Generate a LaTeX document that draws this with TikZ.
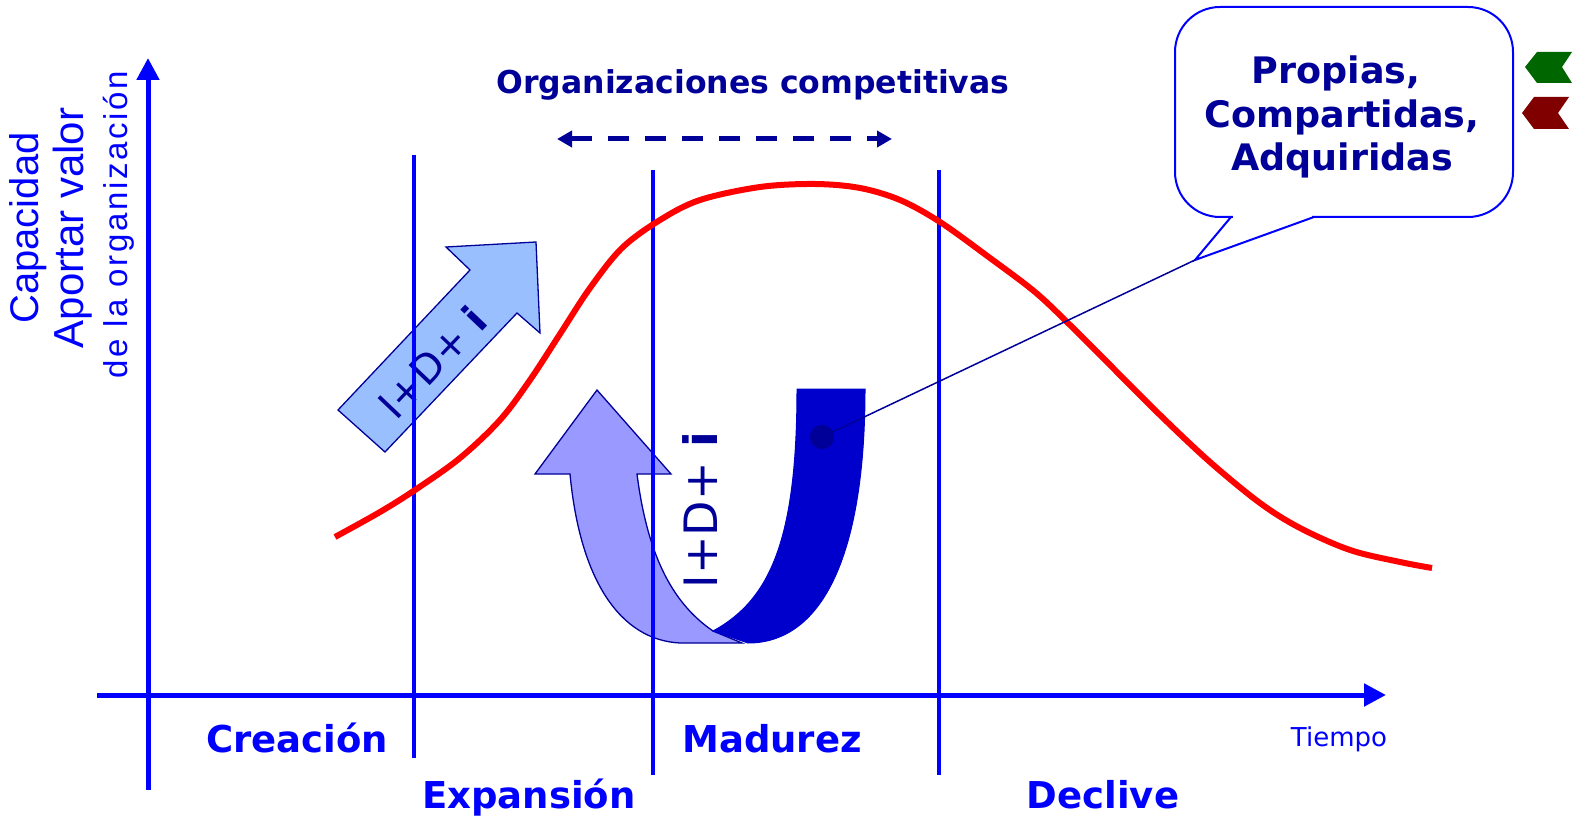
\documentclass[tikz,border=0pt]{standalone}
\usepackage{fontspec}
\setmainfont{DejaVu Sans}
\newfontfamily\arialf{Liberation Sans}
\newfontfamily\arialsp[LetterSpace=8]{Liberation Sans}
\usetikzlibrary{arrows.meta}
\definecolor{axblue}{HTML}{0000FF}
\definecolor{navy}{HTML}{000099}
\definecolor{lightarr}{HTML}{99BFFF}
\definecolor{periw}{HTML}{9999FF}
\definecolor{darkband}{HTML}{0000CC}
\definecolor{chgreen}{HTML}{006600}
\definecolor{chred}{HTML}{800000}
\tikzset{
  axis/.style={draw=axblue, line width=5},
  sep/.style={draw=axblue, line width=4},
  phase/.style={text=axblue, font=\bfseries\fontsize{37}{44}\selectfont, anchor=base, inner sep=0},
  ylab/.style={text=axblue, rotate=90, inner sep=0},
  calltext/.style={text=navy, font=\bfseries\fontsize{36.5}{44}\selectfont, anchor=base, inner sep=0},
  idi/.style={text=navy, inner sep=0},
  arrowout/.style={draw=navy, line width=1.3}
}
\begin{document}
\begin{tikzpicture}[x=1pt,y=-1pt]
\useasboundingbox (0,0) rectangle (1577,818);

% first straight arrow (light blue)
\filldraw[fill=lightarr, arrowout] (338,410) -- (470,270) -- (446,247) -- (536,242) -- (540,333) -- (517,313) -- (385,452) -- cycle;
\node[idi, rotate=46.5, font=\fontsize{40}{48}\selectfont] (t1) at (432,362) {I+D+ \textbf{i}};

% U arrow, light part
\filldraw[fill=periw, arrowout] (597,390) -- (671,474) -- (637,474) .. controls (648,560) and (675,605) .. (713,631) -- (742,643) -- (680,643) .. controls (620,640) and (580,580) .. (570,474) -- (535,474) -- cycle;
% U arrow, dark part
\filldraw[fill=darkband, draw=darkband, line width=1] (797,389) -- (865,389) .. controls (865,560) and (820,643) .. (748,643) -- (713,631) .. controls (770,600) and (797,540) .. (797,389) -- cycle;
\node[idi, rotate=90, anchor=base, font=\fontsize{46}{54}\selectfont] (t2) at (717,510) {I+D+ \textbf{i}};

% axes
\coordinate (yb) at (148,790);
\coordinate (yt) at (148,58);
\coordinate (xl) at (97,695);
\coordinate (xr) at (1386,695);
\draw[axis, -{Triangle[length=22,width=22]}] (yb) -- (yt);
\draw[axis, -{Triangle[length=22,width=22]}] (xl) -- (xr);

% phase separators
\coordinate (s1t) at (414,155); \coordinate (s1b) at (414,758);
\coordinate (s2t) at (653,170); \coordinate (s2b) at (653,775);
\coordinate (s3t) at (939,170); \coordinate (s3b) at (939,775);
\draw[sep] (s1t) -- (s1b);
\draw[sep] (s2t) -- (s2b);
\draw[sep] (s3t) -- (s3b);

% red life-cycle curve
\draw[red, line width=6, line join=round] plot[smooth, tension=0.55] coordinates {(335,537) (380,512) (415,490) (460,458) (500,420) (530,380) (560,334) (590,288) (622,248) (660,220) (700,200) (760,187) (815,184) (860,188) (900,200) (940,222) (990,258) (1035,292) (1070,325) (1110,365) (1160,415) (1210,462) (1260,503) (1300,528) (1350,550) (1400,562) (1432,568)};

% dashed double arrow
\coordinate (dl) at (557,139);
\coordinate (dr) at (892,139);
\draw[navy, line width=5, dash pattern=on 21pt off 16pt, {Triangle[length=15,width=16]}-{Triangle[length=15,width=16]}] (dl) -- (dr);
\node[text=navy, font=\bfseries\fontsize{31.5}{38}\selectfont, anchor=base, inner sep=0] (org) at (753,94) {Organizaciones competitivas};

% labels
\node[phase] (crea) at (297,752) {Creación};
\node[phase] (expa) at (529,808) {Expansión};
\node[phase] (madu) at (772,752) {Madurez};
\node[phase] (decl) at (1103,808) {Declive};
\node[text=axblue, font=\fontsize{26}{31}\selectfont, anchor=base, inner sep=0] (tiem) at (1339,746) {Tiempo};

\node[ylab, font=\arialf\fontsize{40}{48}\selectfont] (yl1) at (28,228) {Capacidad};
\node[ylab, font=\arialf\fontsize{42}{50}\selectfont] (yl2) at (73,228) {Aportar valor};
\node[ylab, font=\arialsp\fontsize{33}{40}\selectfont] (yl3) at (119,225) {de la organización};

% callout
\draw[axblue, line width=2, fill=white, rounded corners=45] (1175,7) rectangle (1513,217);
\fill[white] (1233,219) -- (1233,214) -- (1312,214) -- (1312,219) -- cycle;
\coordinate (tip) at (1195,260);
\draw[axblue, line width=2] (1231,217) -- (tip) -- (1314,217);
\node[calltext] (c1) at (1336,84) {Propias,};
\node[calltext] (c2) at (1342,128) {Compartidas,};
\node[calltext] (c3) at (1342,171) {Adquiridas};

% pointer line and dot
\node[circle, fill=navy, minimum size=24, inner sep=0] (dot) at (822,437) {};
\draw[navy, line width=1.5] (dot.center) -- (tip);
\node[circle, fill=navy, minimum size=24, inner sep=0] at (dot) {};

% chevrons
\fill[chgreen] (1525,67) -- (1537,52) -- (1572,52) -- (1562,67) -- (1572,83) -- (1537,83) -- cycle;
\fill[chred] (1522,113) -- (1534,97) -- (1569,97) -- (1558,113) -- (1569,129) -- (1534,129) -- cycle;
\end{tikzpicture}
\end{document}
